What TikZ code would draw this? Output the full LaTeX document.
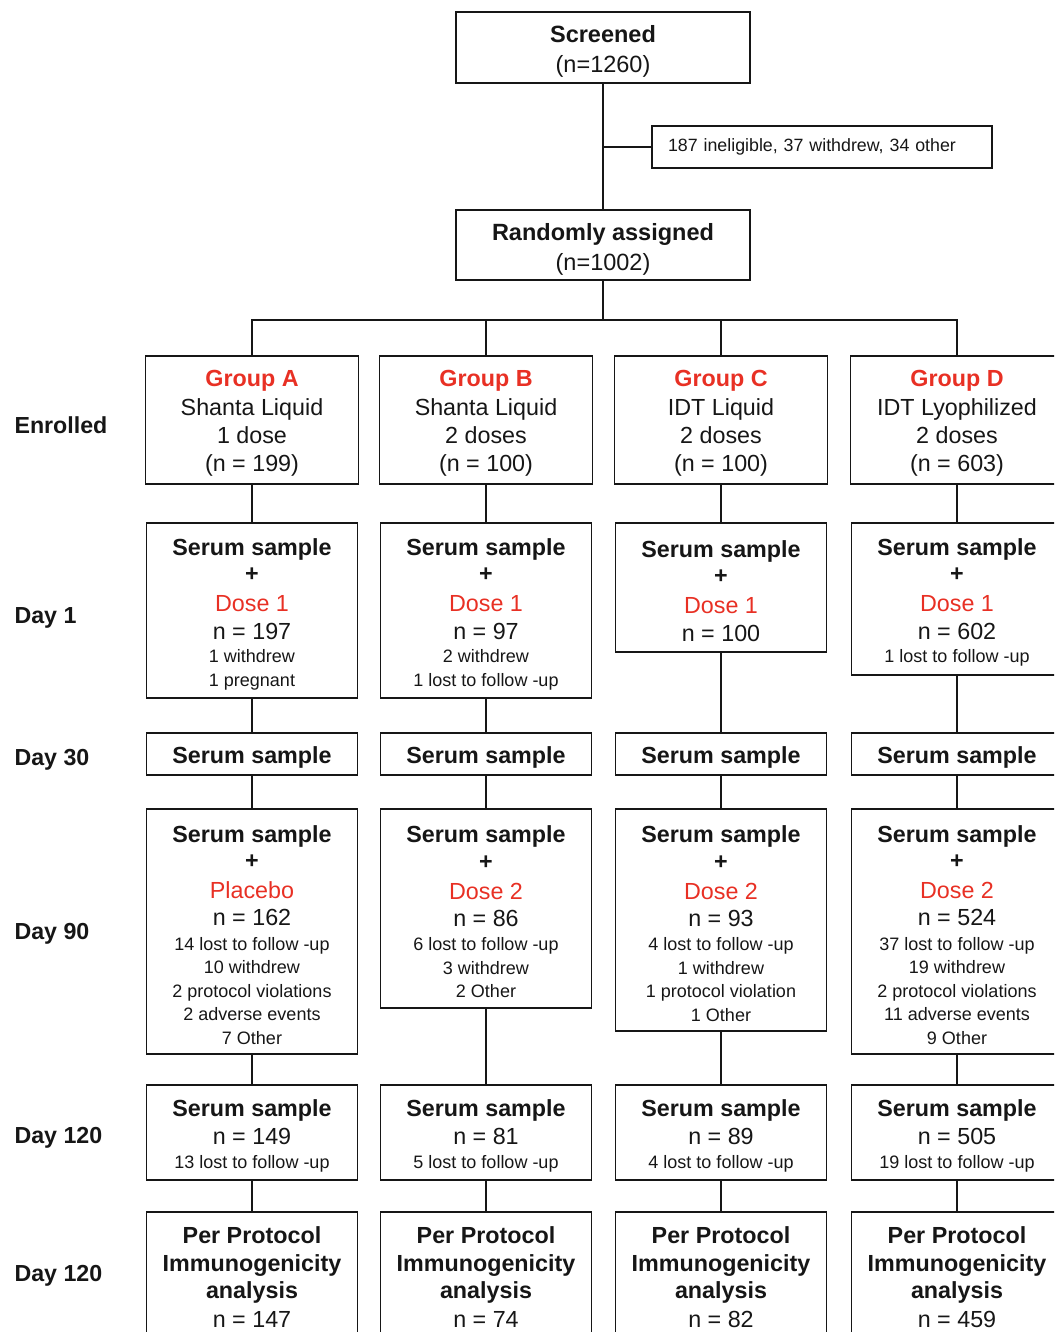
\documentclass[tikz,border=0pt]{standalone}
\usepackage{fontspec}
\setmainfont{Liberation Sans}
\usepackage{xcolor}
\definecolor{trialRed}{RGB}{232,48,36}
\definecolor{lineBlack}{RGB}{22,22,22}
\newcommand{\grp}[1]{\rule{0pt}{23pt}\textcolor{trialRed}{\textbf{#1}}}
\newcommand{\dose}[1]{\textcolor{trialRed}{#1}}
\newcommand{\sm}[1]{{\fontsize{18}{19}\selectfont #1}}
\newcommand{\serum}{\rule{0pt}{24pt}\textbf{Serum sample}}
\newcommand{\toptitle}[1]{\rule{0pt}{26pt}\textbf{#1}}
\tikzset{
    flowbox/.style={
        rectangle,
        draw=lineBlack,
        line width=1.8pt,
        align=center,
        inner sep=0pt,
        anchor=north,
        minimum width=211pt,
        text=lineBlack,
        font=\fontsize{23.3}{23.5}\selectfont
    },
    topbox/.style={
        flowbox,
        minimum width=294pt,
        font=\fontsize{23.5}{30}\selectfont
    },
    grpbox/.style={
        flowbox,
        minimum width=213pt,
        minimum height=128pt
    },
    sidebox/.style={
        rectangle,
        draw=lineBlack,
        line width=1.8pt,
        align=left,
        text width=308pt,
        inner xsep=16pt,
        inner ysep=0pt,
        minimum height=42pt,
        text=lineBlack,
        font=\fontsize{17.8}{20}\selectfont
    },
    rowlabel/.style={anchor=base west, text=lineBlack, font=\bfseries\fontsize{23.2}{24}\selectfont},
    link/.style={draw=lineBlack, line width=1.8pt}
}
\begin{document}
\begin{tikzpicture}[x=1pt, y=-1pt]
    \useasboundingbox (0,0) rectangle (1054,1332);
    \clip (0,0) rectangle (1054,1332);

    % screening and randomisation
    \node[topbox, minimum height=71pt] (screened) at (603,11) {\toptitle{Screened}\\(n=1260)};
    \node[sidebox] (excl) at (822,147) {187 ineligible, 37 withdrew, 34 other};
    \node[topbox, minimum height=70pt] (rand) at (603,209) {\toptitle{Randomly assigned}\\(n=1002)};

    % row labels
    \node[rowlabel] (lblEnrolled) at (11,433) {Enrolled};
    \node[rowlabel] (lblDayOne) at (11,623) {Day 1};
    \node[rowlabel] (lblDayThirty) at (11,765) {Day 30};
    \node[rowlabel] (lblDayNinety) at (11,939) {Day 90};
    \node[rowlabel] (lblDayOneTwenty) at (11,1143) {Day 120};
    \node[rowlabel] (lblAnalysis) at (11,1281) {Day 120};

    % enrolled groups
    \node[grpbox] (grpA) at (252,355) {\grp{Group A}\\[5pt]
    Shanta Liquid\\[4.5pt]
    1 dose\\[4.5pt]
    (n = 199)};
    \node[grpbox] (grpB) at (486,355) {\grp{Group B}\\[5pt]
    Shanta Liquid\\[4.5pt]
    2 doses\\[4.5pt]
    (n = 100)};
    \node[grpbox] (grpC) at (721,355) {\grp{Group C}\\[5pt]
    IDT Liquid\\[4.5pt]
    2 doses\\[4.5pt]
    (n = 100)};
    \node[grpbox] (grpD) at (957,355) {\grp{Group D}\\[5pt]
    IDT Lyophilized\\[4.5pt]
    2 doses\\[4.5pt]
    (n = 603)};

    % day 1
    \node[flowbox, minimum height=175pt] (dayoneA) at (252,522) {\serum\\[2.5pt]
    \textbf{+}\\[6.5pt]
    \dose{Dose 1}\\[4.5pt]
    n = 197\\
    \sm{1 withdrew}\\
    \sm{1 pregnant}};
    \node[flowbox, minimum height=175pt] (dayoneB) at (486,522) {\serum\\[2.5pt]
    \textbf{+}\\[6.5pt]
    \dose{Dose 1}\\[4.5pt]
    n = 97\\
    \sm{2 withdrew}\\
    \sm{1 lost to follow -up}};
    \node[flowbox, minimum height=129pt] (dayoneC) at (721,522) {\serum\\[2.5pt]
    \textbf{+}\\[6.5pt]
    \dose{Dose 1}\\[4.5pt]
    n = 100};
    \node[flowbox, minimum height=152pt] (dayoneD) at (957,522) {\serum\\[2.5pt]
    \textbf{+}\\[6.5pt]
    \dose{Dose 1}\\[4.5pt]
    n = 602\\
    \sm{1 lost to follow -up}};

    % day 30
    \node[flowbox, minimum height=42pt] (dthirtyA) at (252,732) {\serum};
    \node[flowbox, minimum height=42pt] (dthirtyB) at (486,732) {\serum};
    \node[flowbox, minimum height=42pt] (dthirtyC) at (721,732) {\serum};
    \node[flowbox, minimum height=42pt] (dthirtyD) at (957,732) {\serum};

    % day 90
    \node[flowbox, minimum height=245pt] (dninetyA) at (252,808) {\serum\\[3pt]
    \textbf{+}\\[6.5pt]
    \dose{Placebo}\\[3.5pt]
    n = 162\\[1pt]
    \sm{14 lost to follow -up}\\
    \sm{10 withdrew}\\
    \sm{2 protocol violations}\\
    \sm{2 adverse events}\\
    \sm{7 Other}};
    \node[flowbox, minimum height=199pt] (dninetyB) at (486,808) {\serum\\[3pt]
    \textbf{+}\\[6.5pt]
    \dose{Dose 2}\\[3.5pt]
    n = 86\\[1pt]
    \sm{6 lost to follow -up}\\
    \sm{3 withdrew}\\
    \sm{2 Other}};
    \node[flowbox, minimum height=222pt] (dninetyC) at (721,808) {\serum\\[3pt]
    \textbf{+}\\[6.5pt]
    \dose{Dose 2}\\[3.5pt]
    n = 93\\[1pt]
    \sm{4 lost to follow -up}\\
    \sm{1 withdrew}\\
    \sm{1 protocol violation}\\
    \sm{1 Other}};
    \node[flowbox, minimum height=245pt] (dninetyD) at (957,808) {\serum\\[3pt]
    \textbf{+}\\[6.5pt]
    \dose{Dose 2}\\[3.5pt]
    n = 524\\[1pt]
    \sm{37 lost to follow -up}\\
    \sm{19 withdrew}\\
    \sm{2 protocol violations}\\
    \sm{11 adverse events}\\
    \sm{9 Other}};

    % day 120 serum
    \node[flowbox, minimum height=95pt] (serumA) at (252,1084) {\serum\\[4.5pt]
    n = 149\\[1pt]
    \sm{13 lost to follow -up}};
    \node[flowbox, minimum height=95pt] (serumB) at (486,1084) {\serum\\[4.5pt]
    n = 81\\[1pt]
    \sm{5 lost to follow -up}};
    \node[flowbox, minimum height=95pt] (serumC) at (721,1084) {\serum\\[4.5pt]
    n = 89\\[1pt]
    \sm{4 lost to follow -up}};
    \node[flowbox, minimum height=95pt] (serumD) at (957,1084) {\serum\\[4.5pt]
    n = 505\\[1pt]
    \sm{19 lost to follow -up}};

    % per protocol analysis
    \node[flowbox, minimum height=131pt] (ppA) at (252,1211) {\textbf{Per Protocol}\\[4.5pt]
    \textbf{Immunogenicity}\\[3.5pt]
    \textbf{analysis}\\[5.5pt]
    n = 147};
    \node[flowbox, minimum height=131pt] (ppB) at (486,1211) {\textbf{Per Protocol}\\[4.5pt]
    \textbf{Immunogenicity}\\[3.5pt]
    \textbf{analysis}\\[5.5pt]
    n = 74};
    \node[flowbox, minimum height=131pt] (ppC) at (721,1211) {\textbf{Per Protocol}\\[4.5pt]
    \textbf{Immunogenicity}\\[3.5pt]
    \textbf{analysis}\\[5.5pt]
    n = 82};
    \node[flowbox, minimum height=131pt] (ppD) at (957,1211) {\textbf{Per Protocol}\\[4.5pt]
    \textbf{Immunogenicity}\\[3.5pt]
    \textbf{analysis}\\[5.5pt]
    n = 459};

    % connectors
    \coordinate (bus) at (603,320);
    \draw[link] (screened) -- (rand);
    \draw[link] (excl.west) -- (excl.west -| screened.south);
    \draw[link] (rand) -- (bus);
    \draw[link] (grpA) |- (bus) -| (grpD);
    \draw[link] (grpB) -- (grpB |- bus);
    \draw[link] (grpC) -- (grpC |- bus);
    \draw[link] (grpA) -- (dayoneA) -- (dthirtyA) -- (dninetyA) -- (serumA) -- (ppA);
    \draw[link] (grpB) -- (dayoneB) -- (dthirtyB) -- (dninetyB) -- (serumB) -- (ppB);
    \draw[link] (grpC) -- (dayoneC) -- (dthirtyC) -- (dninetyC) -- (serumC) -- (ppC);
    \draw[link] (grpD) -- (dayoneD) -- (dthirtyD) -- (dninetyD) -- (serumD) -- (ppD);
\end{tikzpicture}
\end{document}
